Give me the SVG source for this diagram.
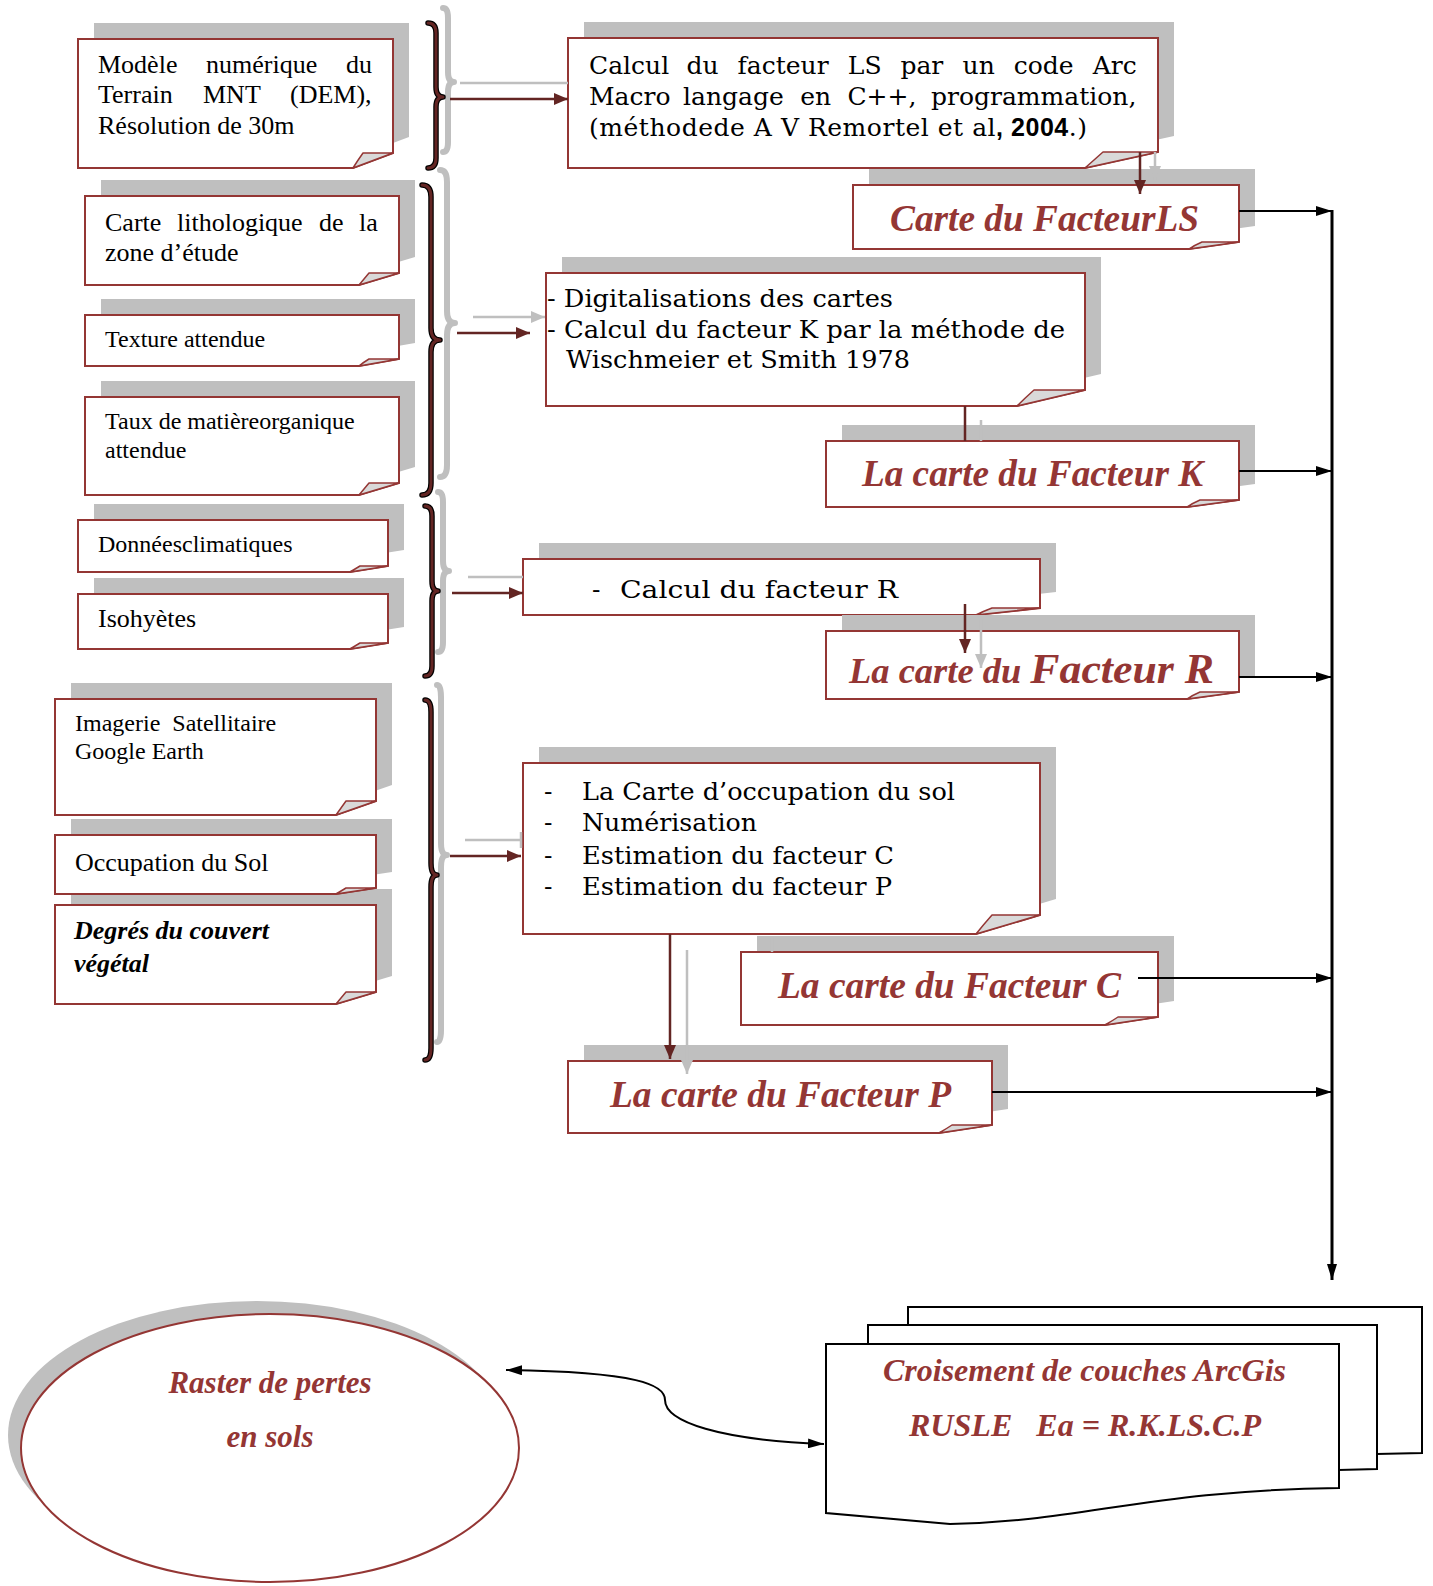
<svg xmlns="http://www.w3.org/2000/svg" width="1433" height="1586" viewBox="0 0 1433 1586">
<style>
.sh{fill:#bfbfbf;stroke:none}
.box{fill:#fff;stroke:#943634;stroke-width:2}
.fold{fill:#d9d9d9;stroke:#943634;stroke-width:1.5;stroke-linejoin:round}
.tn{font-family:"Liberation Serif","Times New Roman",serif;fill:#000}
.tc{font-family:"DejaVu Serif","Liberation Serif",serif;font-size:25px;fill:#000}
.tb{font-family:"Liberation Sans",Arial,sans-serif;font-weight:bold}
.ti{font-family:"Liberation Serif","Times New Roman",serif;font-weight:bold;font-style:italic;fill:#943634}
.pre{white-space:pre}
.brk{fill:none;stroke:#000;stroke-width:5.5;stroke-linecap:round;stroke-linejoin:round}
.brr{fill:none;stroke:#632523;stroke-width:3;stroke-linecap:round;stroke-linejoin:round}
.brg{fill:none;stroke:#bfbfbf;stroke-width:6;stroke-linecap:round;stroke-linejoin:round}
.cr{fill:none;stroke:#632523;stroke-width:2.5}
.cg{fill:none;stroke:#bfbfbf;stroke-width:2.5}
.ck{fill:none;stroke:#000;stroke-width:2}
.doc{fill:#fff;stroke:#000;stroke-width:2}
</style>
<defs>
<marker id="mr" markerUnits="userSpaceOnUse" markerWidth="14" markerHeight="12" refX="14" refY="6" orient="auto" viewBox="0 0 14 12"><path d="M0 0L14 6L0 12Z" fill="#632523"/></marker>
<marker id="mg" markerUnits="userSpaceOnUse" markerWidth="14" markerHeight="12" refX="14" refY="6" orient="auto" viewBox="0 0 14 12"><path d="M0 0L14 6L0 12Z" fill="#bfbfbf"/></marker>
<marker id="mk" markerUnits="userSpaceOnUse" markerWidth="16" markerHeight="10" refX="16" refY="5" orient="auto-start-reverse" viewBox="0 0 16 10"><path d="M0 0L16 5L0 10Z" fill="#000"/></marker>
</defs>

<!-- Left column inputs -->
<g id="n-mnt">
<path class="sh" d="M94 23H409V137L369 152H94Z"/>
<path class="box" d="M78 39H393V153L353 168H78Z"/>
<path class="fold" d="M353 168Q358 160 363 153H393Z"/>
<text class="tn" font-size="26" y="73"><tspan x="98">Modèle</tspan><tspan x="206">numérique</tspan><tspan x="346">du</tspan></text>
<text class="tn" font-size="26" y="103"><tspan x="98">Terrain</tspan><tspan x="203">MNT</tspan><tspan x="290">(DEM),</tspan></text>
<text class="tn" font-size="26" x="98" y="134">Résolution de 30m</text>
</g>
<g id="n-litho">
<path class="sh" d="M101 180H415V257L375 269H101Z"/>
<path class="box" d="M85 196H399V273L359 285H85Z"/>
<path class="fold" d="M359 285Q364 279 369 273H399Z"/>
<text class="tn" font-size="26" y="231"><tspan x="105">Carte</tspan><tspan x="177">lithologique</tspan><tspan x="319">de</tspan><tspan x="359">la</tspan></text>
<text class="tn" font-size="26" x="105" y="261">zone d’étude</text>
</g>
<g id="n-texture">
<path class="sh" d="M101 299H415V343L375 350H101Z"/>
<path class="box" d="M85 315H399V359L359 366H85Z"/>
<path class="fold" d="M359 366Q364 362 369 359H399Z"/>
<text class="tn" font-size="24" x="105" y="347">Texture attendue</text>
</g>
<g id="n-taux">
<path class="sh" d="M101 381H415V467L375 479H101Z"/>
<path class="box" d="M85 397H399V483L359 495H85Z"/>
<path class="fold" d="M359 495Q364 489 369 483H399Z"/>
<text class="tn" font-size="24" x="105" y="429">Taux de matièreorganique</text>
<text class="tn" font-size="24" x="105" y="458">attendue</text>
</g>
<g id="n-donnees">
<path class="sh" d="M94 504H404V550L366 556H94Z"/>
<path class="box" d="M78 520H388V566L350 572H78Z"/>
<path class="fold" d="M350 572Q355 569 360 566H388Z"/>
<text class="tn" font-size="24" x="98" y="552">Donnéesclimatiques</text>
</g>
<g id="n-isohyetes">
<path class="sh" d="M94 578H404V627L366 633H94Z"/>
<path class="box" d="M78 594H388V643L350 649H78Z"/>
<path class="fold" d="M350 649Q355 646 360 643H388Z"/>
<text class="tn" font-size="26" x="98" y="627">Isohyètes</text>
</g>
<g id="n-imagerie">
<path class="sh" d="M71 683H392V785L352 799H71Z"/>
<path class="box" d="M55 699H376V801L336 815H55Z"/>
<path class="fold" d="M336 815Q341 808 346 801H376Z"/>
<text class="tn pre" font-size="24" x="75" y="731">Imagerie  Satellitaire</text>
<text class="tn" font-size="24" x="75" y="759">Google Earth</text>
</g>
<g id="n-degres">
<path class="sh" d="M71 889H392V976L352 988H71Z"/>
<path class="box" d="M55 905H376V992L336 1004H55Z"/>
<path class="fold" d="M336 1004Q341 998 346 992H376Z"/>
<text class="tn" font-size="26" font-weight="bold" font-style="italic" x="74" y="939">Degrés du couvert</text>
<text class="tn" font-size="26" font-weight="bold" font-style="italic" x="74" y="972">végétal</text>
</g>
<g id="n-occupation">
<path class="sh" d="M71 819H392V872L352 878H71Z"/>
<path class="box" d="M55 835H376V888L336 894H55Z"/>
<path class="fold" d="M336 894Q341 891 346 888H376Z"/>
<text class="tn" font-size="26" x="75" y="871">Occupation du Sol</text>
</g>

<!-- Braces -->
<g id="braces">
<path class="brg" d="M443 8Q448 8 448 18V72Q448 82 454 82Q448 82 448 92V142Q448 152 443 152"/>
<path class="brk" d="M428 23Q436 23 436 33V87Q436 97 443 97Q436 97 436 107V158Q436 168 428 168"/>
<path class="brr" d="M428 23Q436 23 436 33V87Q436 97 443 97Q436 97 436 107V158Q436 168 428 168"/>
<path class="brg" d="M440 170Q447 170 447 182V311Q447 323 455 323Q447 323 447 335V465Q447 477 440 477"/>
<path class="brk" d="M422 185Q431 185 431 197V328Q431 340 440 340Q431 340 431 352V483Q431 495 422 495"/>
<path class="brr" d="M422 185Q431 185 431 197V328Q431 340 440 340Q431 340 431 352V483Q431 495 422 495"/>
<path class="brg" d="M438 492Q443 492 443 502V561Q443 571 449 571Q443 571 443 581V642Q443 652 438 652"/>
<path class="brk" d="M425 506Q432 506 432 516V581Q432 591 438 591Q432 591 432 601V666Q432 676 425 676"/>
<path class="brr" d="M425 506Q432 506 432 516V581Q432 591 438 591Q432 591 432 601V666Q432 676 425 676"/>
<path class="brg" d="M437 685Q441 685 441 697V843Q441 855 447 855Q441 855 441 867V1030Q441 1042 437 1042"/>
<path class="brk" d="M425 700Q431 700 431 712V863Q431 875 437 875Q431 875 431 887V1048Q431 1060 425 1060"/>
<path class="brr" d="M425 700Q431 700 431 712V863Q431 875 437 875Q431 875 431 887V1048Q431 1060 425 1060"/>
</g>

<!-- Right column processes and maps -->
<g id="n-ls-calc">
<path class="sh" d="M584 22H1174V136L1101 152H584Z"/>
<path class="box" d="M568 38H1158V152L1085 168H568Z"/>
<path class="fold" d="M1085 168Q1094 160 1103 152H1158Z"/>
<text class="tc" y="74"><tspan x="589">Calcul</tspan><tspan x="686.5">du</tspan><tspan x="737.6">facteur</tspan><tspan x="847.8">LS</tspan><tspan x="900.4">par</tspan><tspan x="962.6">un</tspan><tspan x="1013.8">code</tspan><tspan x="1092.7">Arc</tspan></text>
<text class="tc" y="105"><tspan x="589">Macro</tspan><tspan x="683">langage</tspan><tspan x="800.2">en</tspan><tspan x="847.4">C++,</tspan><tspan x="931">programmation,</tspan></text>
<text class="tc" x="589" y="136" textLength="498" lengthAdjust="spacing">(méthodede A V Remortel et al<tspan class="tb">, 2004</tspan>.)</text>
</g>
<g id="n-ls-map">
<path class="sh" d="M869 169H1255V226L1205 233H869Z"/>
<path class="box" d="M853 185H1239V242L1189 249H853Z"/>
<path class="fold" d="M1189 249Q1195 245 1202 242H1239Z"/>
<text class="ti" font-size="37" x="890" y="231" textLength="309" lengthAdjust="spacingAndGlyphs">Carte du FacteurLS</text>
</g>
<g id="n-k-calc">
<path class="sh" d="M562 257H1101V374L1033 390H562Z"/>
<path class="box" d="M546 273H1085V390L1017 406H546Z"/>
<path class="fold" d="M1017 406Q1025 398 1034 390H1085Z"/>
<text class="tc" x="547" y="307" textLength="346" lengthAdjust="spacingAndGlyphs">- Digitalisations des cartes</text>
<text class="tc" x="547" y="338" textLength="518" lengthAdjust="spacingAndGlyphs">- Calcul du facteur K par la méthode de</text>
<text class="tc" x="566" y="368" textLength="344" lengthAdjust="spacingAndGlyphs">Wischmeier et Smith 1978</text>
</g>
<g id="n-k-map">
<path class="sh" d="M842 425H1255V484L1203 491H842Z"/>
<path class="box" d="M826 441H1239V500L1187 507H826Z"/>
<path class="fold" d="M1187 507Q1193 503 1200 500H1239Z"/>
<text class="ti" font-size="37" x="862" y="486" textLength="341" lengthAdjust="spacingAndGlyphs">La carte du Facteur K</text>
</g>
<g id="n-r-calc">
<path class="sh" d="M539 543H1056V592L992 599H539Z"/>
<path class="box" d="M523 559H1040V608L976 615H523Z"/>
<path class="fold" d="M976 615Q984 611 992 608H1040Z"/>
<text class="tc" font-size="28" x="592" y="598">-</text>
<text class="tc" font-size="28" x="620" y="598" textLength="278" lengthAdjust="spacingAndGlyphs">Calcul du facteur R</text>
</g>
<g id="n-r-map">
<path class="sh" d="M842 615H1255V676L1203 683H842Z"/>
<path class="box" d="M826 631H1239V692L1187 699H826Z"/>
<path class="fold" d="M1187 699Q1193 695 1200 692H1239Z"/>
<text class="ti pre" x="849" y="683" textLength="365" lengthAdjust="spacingAndGlyphs"><tspan font-size="35">La carte du </tspan><tspan font-size="42">Facteur R</tspan></text>
</g>
<g id="n-landuse">
<path class="sh" d="M539 747H1056V899L992 918H539Z"/>
<path class="box" d="M523 763H1040V915L976 934H523Z"/>
<path class="fold" d="M976 934Q984 924 992 915H1040Z"/>
<text class="tc" x="544" y="800">-</text>
<text class="tc" x="544" y="831">-</text>
<text class="tc" x="544" y="864">-</text>
<text class="tc" x="544" y="895">-</text>
<text class="tc" x="582" y="800" textLength="373" lengthAdjust="spacingAndGlyphs">La Carte d’occupation du sol</text>
<text class="tc" x="582" y="831" textLength="175" lengthAdjust="spacingAndGlyphs">Numérisation</text>
<text class="tc" x="582" y="864" textLength="312" lengthAdjust="spacingAndGlyphs">Estimation du facteur C</text>
<text class="tc" x="582" y="895" textLength="310" lengthAdjust="spacingAndGlyphs">Estimation du facteur P</text>
</g>
<g id="n-c-map">
<path class="sh" d="M757 936H1174V1001L1121 1009H757Z"/>
<path class="box" d="M741 952H1158V1017L1105 1025H741Z"/>
<path class="fold" d="M1105 1025Q1112 1021 1118 1017H1158Z"/>
<text class="ti" font-size="37" x="778" y="998" textLength="343" lengthAdjust="spacingAndGlyphs">La carte du Facteur C</text>
</g>
<g id="n-p-map">
<path class="sh" d="M584 1045H1008V1109L955 1117H584Z"/>
<path class="box" d="M568 1061H992V1125L939 1133H568Z"/>
<path class="fold" d="M939 1133Q946 1129 952 1125H992Z"/>
<text class="ti" font-size="37" x="610" y="1107" textLength="341" lengthAdjust="spacingAndGlyphs">La carte du Facteur P</text>
</g>

<!-- Bottom -->
<g id="n-raster">
<ellipse class="sh" cx="257" cy="1435" rx="249" ry="134"/>
<ellipse cx="270" cy="1448" rx="249" ry="134" fill="#fff" stroke="#943634" stroke-width="2"/>
<text class="ti" font-size="31" x="270" y="1393" text-anchor="middle">Raster de pertes</text>
<text class="ti" font-size="31" x="270" y="1447" text-anchor="middle">en sols</text>
</g>
<g id="n-rusle">
<path class="doc" d="M908 1307H1422V1453L1377 1454V1325H908Z"/>
<path class="doc" d="M868 1325H1377V1469L1339 1470V1344H868Z"/>
<path class="doc" d="M826 1344H1339V1488C1150 1490 1080 1522 950 1524L826 1513Z"/>
<text class="ti" font-size="32" x="883" y="1381" textLength="403" lengthAdjust="spacingAndGlyphs">Croisement de couches ArcGis</text>
<text class="ti pre" font-size="32" x="909" y="1436" textLength="352" lengthAdjust="spacingAndGlyphs">RUSLE   Ea = R.K.LS.C.P</text>
</g>

<!-- Connectors -->
<g id="connectors">
<path class="cg" d="M460 83H568"/>
<path class="cr" d="M450 99H568" marker-end="url(#mr)"/>
<path class="cg" d="M473 317H545" marker-end="url(#mg)"/>
<path class="cr" d="M457 333H530" marker-end="url(#mr)"/>
<path class="cg" d="M468 577H523"/>
<path class="cr" d="M452 593H523" marker-end="url(#mr)"/>
<path class="cg" d="M465 840H521M521 832V848"/>
<path class="cr" d="M450 856H521" marker-end="url(#mr)"/>
<path class="cg" d="M1155 152V180" marker-end="url(#mg)"/>
<path class="cr" d="M1140 152V194" marker-end="url(#mr)"/>
<path class="cg" d="M981 420V441"/>
<path class="cr" d="M965 406V441"/>
<path class="cg" d="M981 619V668" marker-end="url(#mg)"/>
<path class="cr" d="M965 604V653" marker-end="url(#mr)"/>
<path class="cg" d="M772 938V952"/>
<path class="cg" d="M687 950V1074" marker-end="url(#mg)"/>
<path class="cr" d="M670 934V1059" marker-end="url(#mr)"/>
<path class="ck" d="M1239 211H1332" marker-end="url(#mk)"/>
<path class="ck" d="M1239 471H1332" marker-end="url(#mk)"/>
<path class="ck" d="M1239 677H1332" marker-end="url(#mk)"/>
<path class="ck" d="M1138 978H1332" marker-end="url(#mk)"/>
<path class="ck" d="M992 1092H1332" marker-end="url(#mk)"/>
<path fill="none" stroke="#000" stroke-width="3" d="M1332 210V1280" marker-end="url(#mk)"/>
<path class="ck" d="M506 1370C640 1372 665 1385 665 1400C665 1422 720 1440 824 1444" marker-start="url(#mk)" marker-end="url(#mk)"/>
</g>
</svg>
